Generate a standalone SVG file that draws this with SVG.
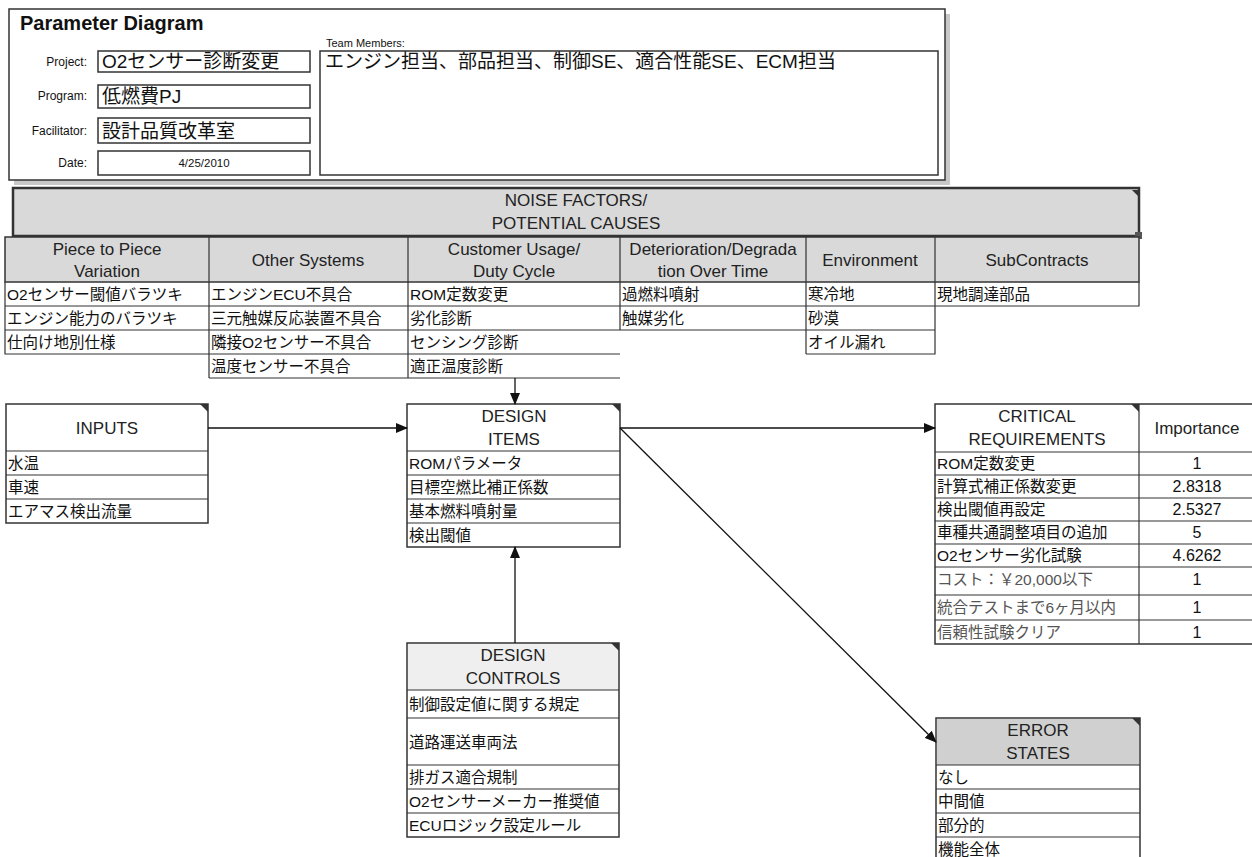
<svg xmlns="http://www.w3.org/2000/svg" width="1252" height="857" viewBox="0 0 1252 857">
<style>
text{font-family:"Liberation Sans","Noto Sans CJK JP",sans-serif;fill:#111}
.lbl{font-size:12px;text-anchor:end}
.fv{font-size:19px}
.hd{font-size:17px;text-anchor:middle;fill:#222}
.it{font-size:15.5px}
.num{font-size:16px;text-anchor:middle}
.gry{fill:#555}
.box{fill:#fff;stroke:#333;stroke-width:1.5}
.gbox{fill:#d9d9d9;stroke:#333;stroke-width:1.5}
.ln{stroke:#333;stroke-width:1.2;fill:none}
.cn{stroke:#111;stroke-width:1.3;fill:none;marker-end:url(#ah)}
.mk{fill:#333}
</style>
<defs>
<marker id="ah" markerWidth="12" markerHeight="10" refX="11" refY="5" orient="auto" markerUnits="userSpaceOnUse">
<path d="M0,0 L12,5 L0,10 Z" fill="#111"/>
</marker>
</defs>
<rect width="1252" height="857" fill="#fff"/>

<g id="header">
<rect x="14" y="14" width="936" height="171" fill="#c8c8c8"/>
<rect x="9" y="9" width="936" height="171" class="box"/>
<text x="20" y="30" style="font-size:20px;font-weight:bold">Parameter Diagram</text>
<text x="326" y="47" style="font-size:11px">Team Members:</text>
<rect x="320" y="51" width="618" height="124" class="box"/>
<text x="325" y="68" class="fv">エンジン担当、部品担当、制御SE、適合性能SE、ECM担当</text>
<text x="87" y="66" class="lbl">Project:</text>
<text x="87" y="100" class="lbl">Program:</text>
<text x="87" y="135" class="lbl">Facilitator:</text>
<text x="87" y="167" class="lbl">Date:</text>
<rect x="98" y="51" width="212" height="21" class="box"/>
<rect x="98" y="85" width="212" height="23" class="box"/>
<rect x="98" y="118" width="212" height="25" class="box"/>
<rect x="98" y="151" width="212" height="24" class="box"/>
<text x="102" y="68" class="fv">O2センサー診断変更</text>
<text x="102" y="103" class="fv">低燃費PJ</text>
<text x="102" y="138" class="fv">設計品質改革室</text>
<text x="204" y="167" style="font-size:11.5px;text-anchor:middle">4/25/2010</text>
</g>

<g id="noise-factors">
<rect x="13" y="188" width="1126" height="48" fill="#d9d9d9" stroke="#333" stroke-width="2.5"/>
<text x="576" y="206" class="hd">NOISE FACTORS/</text>
<text x="576" y="229" class="hd">POTENTIAL CAUSES</text>
<path d="M1132,190 L1138,190 L1138,196 Z" class="mk"/>
<rect x="1135" y="232" width="7" height="7" fill="#555"/>
<rect x="5" y="237" width="1134" height="45" class="gbox"/>
<path class="ln" d="M209,237 V378 M408,237 V378 M620,237 V330 M806,237 V354 M935,237 V306"/>
<text x="107" y="255" class="hd">Piece to Piece</text>
<text x="107" y="277" class="hd">Variation</text>
<text x="308" y="266" class="hd">Other Systems</text>
<text x="514" y="255" class="hd">Customer Usage/</text>
<text x="514" y="277" class="hd">Duty Cycle</text>
<text x="713" y="255" class="hd">Deterioration/Degrada</text>
<text x="713" y="277" class="hd">tion Over Time</text>
<text x="870" y="266" class="hd">Environment</text>
<text x="1037" y="266" class="hd">SubContracts</text>
<path class="ln" d="M5,282 V354 H209 M5,306 H1139 V282 M5,330 H935 M209,354 H620 M806,354 H935 V306 M209,378 H620"/>
<text x="7" y="300" class="it">O2センサー閾値バラツキ</text>
<text x="7" y="324" class="it">エンジン能力のバラツキ</text>
<text x="7" y="348" class="it">仕向け地別仕様</text>
<text x="211" y="300" class="it">エンジンECU不具合</text>
<text x="211" y="324" class="it">三元触媒反応装置不具合</text>
<text x="211" y="348" class="it">隣接O2センサー不具合</text>
<text x="211" y="372" class="it">温度センサー不具合</text>
<text x="410" y="300" class="it">ROM定数変更</text>
<text x="410" y="324" class="it">劣化診断</text>
<text x="410" y="348" class="it">センシング診断</text>
<text x="410" y="372" class="it">適正温度診断</text>
<text x="622" y="300" class="it">過燃料噴射</text>
<text x="622" y="324" class="it">触媒劣化</text>
<text x="808" y="300" class="it">寒冷地</text>
<text x="808" y="324" class="it">砂漠</text>
<text x="808" y="348" class="it">オイル漏れ</text>
<text x="937" y="300" class="it">現地調達部品</text>
</g>

<g id="inputs">
<rect x="6" y="404" width="202" height="119" class="box"/>
<path d="M200,404 L208,404 L208,412 Z" class="mk"/>
<text x="107" y="434" class="hd">INPUTS</text>
<path class="ln" d="M6,451 H208 M6,475 H208 M6,499 H208"/>
<text x="8" y="469" class="it">水温</text>
<text x="8" y="493" class="it">車速</text>
<text x="8" y="517" class="it">エアマス検出流量</text>
</g>

<g id="design-items">
<rect x="407" y="404" width="213" height="143" class="box"/>
<path d="M612,404 L620,404 L620,412 Z" class="mk"/>
<text x="514" y="422" class="hd">DESIGN</text>
<text x="514" y="445" class="hd">ITEMS</text>
<path class="ln" d="M407,451 H620 M407,475 H620 M407,499 H620 M407,523 H620"/>
<text x="409" y="469" class="it">ROMパラメータ</text>
<text x="409" y="493" class="it">目標空燃比補正係数</text>
<text x="409" y="517" class="it">基本燃料噴射量</text>
<text x="409" y="541" class="it">検出閾値</text>
</g>

<g id="critical-requirements">
<rect x="935" y="404" width="320" height="240" class="box"/>
<path d="M1131,404 L1139,404 L1139,412 Z" class="mk"/>
<path class="ln" d="M1139,404 V644"/>
<text x="1037" y="422" class="hd">CRITICAL</text>
<text x="1037" y="445" class="hd">REQUIREMENTS</text>
<text x="1197" y="434" class="hd">Importance</text>
<path class="ln" d="M935,452 H1252 M935,475 H1252 M935,498 H1252 M935,521 H1252 M935,544 H1252 M935,567 H1252 M935,595 H1252 M935,620 H1252"/>
<text x="937" y="469" class="it">ROM定数変更</text>
<text x="937" y="492" class="it">計算式補正係数変更</text>
<text x="937" y="515" class="it">検出閾値再設定</text>
<text x="937" y="538" class="it">車種共通調整項目の追加</text>
<text x="937" y="561" class="it">O2センサー劣化試験</text>
<text x="937" y="585" class="it gry">コスト：￥20,000以下</text>
<text x="937" y="613" class="it gry">統合テストまで6ヶ月以内</text>
<text x="937" y="638" class="it gry">信頼性試験クリア</text>
<text x="1197" y="469" class="num">1</text>
<text x="1197" y="492" class="num">2.8318</text>
<text x="1197" y="515" class="num">2.5327</text>
<text x="1197" y="538" class="num">5</text>
<text x="1197" y="561" class="num">4.6262</text>
<text x="1197" y="585" class="num">1</text>
<text x="1197" y="613" class="num">1</text>
<text x="1197" y="638" class="num">1</text>
</g>

<g id="design-controls">
<rect x="407" y="643" width="212" height="194" class="box"/>
<rect x="408" y="644" width="210" height="46" fill="#efefef"/>
<path d="M611,643 L619,643 L619,651 Z" class="mk"/>
<text x="513" y="661" class="hd">DESIGN</text>
<text x="513" y="684" class="hd">CONTROLS</text>
<path class="ln" d="M407,690 H619 M407,718 H619 M407,765 H619 M407,789 H619 M407,813 H619"/>
<text x="409" y="710" class="it">制御設定値に関する規定</text>
<text x="409" y="748" class="it">道路運送車両法</text>
<text x="409" y="783" class="it">排ガス適合規制</text>
<text x="409" y="807" class="it">O2センサーメーカー推奨値</text>
<text x="409" y="831" class="it">ECUロジック設定ルール</text>
</g>

<g id="error-states">
<rect x="936" y="718" width="204" height="150" class="box"/>
<rect x="937" y="719" width="202" height="46" fill="#d0d0d0"/>
<path d="M1132,718 L1140,718 L1140,726 Z" class="mk"/>
<text x="1038" y="736" class="hd">ERROR</text>
<text x="1038" y="759" class="hd">STATES</text>
<path class="ln" d="M936,765 H1140 M936,789 H1140 M936,813 H1140 M936,837 H1140"/>
<text x="938" y="783" class="it">なし</text>
<text x="938" y="807" class="it">中間値</text>
<text x="938" y="831" class="it">部分的</text>
<text x="938" y="855" class="it">機能全体</text>
</g>

<g id="connectors">
<path class="cn" d="M515,378 V404"/>
<path class="cn" d="M208,428 H407"/>
<path class="cn" d="M620,428 H935"/>
<path class="cn" d="M620,428 L936,742"/>
<path class="cn" d="M515,643 V547"/>
</g>
</svg>
